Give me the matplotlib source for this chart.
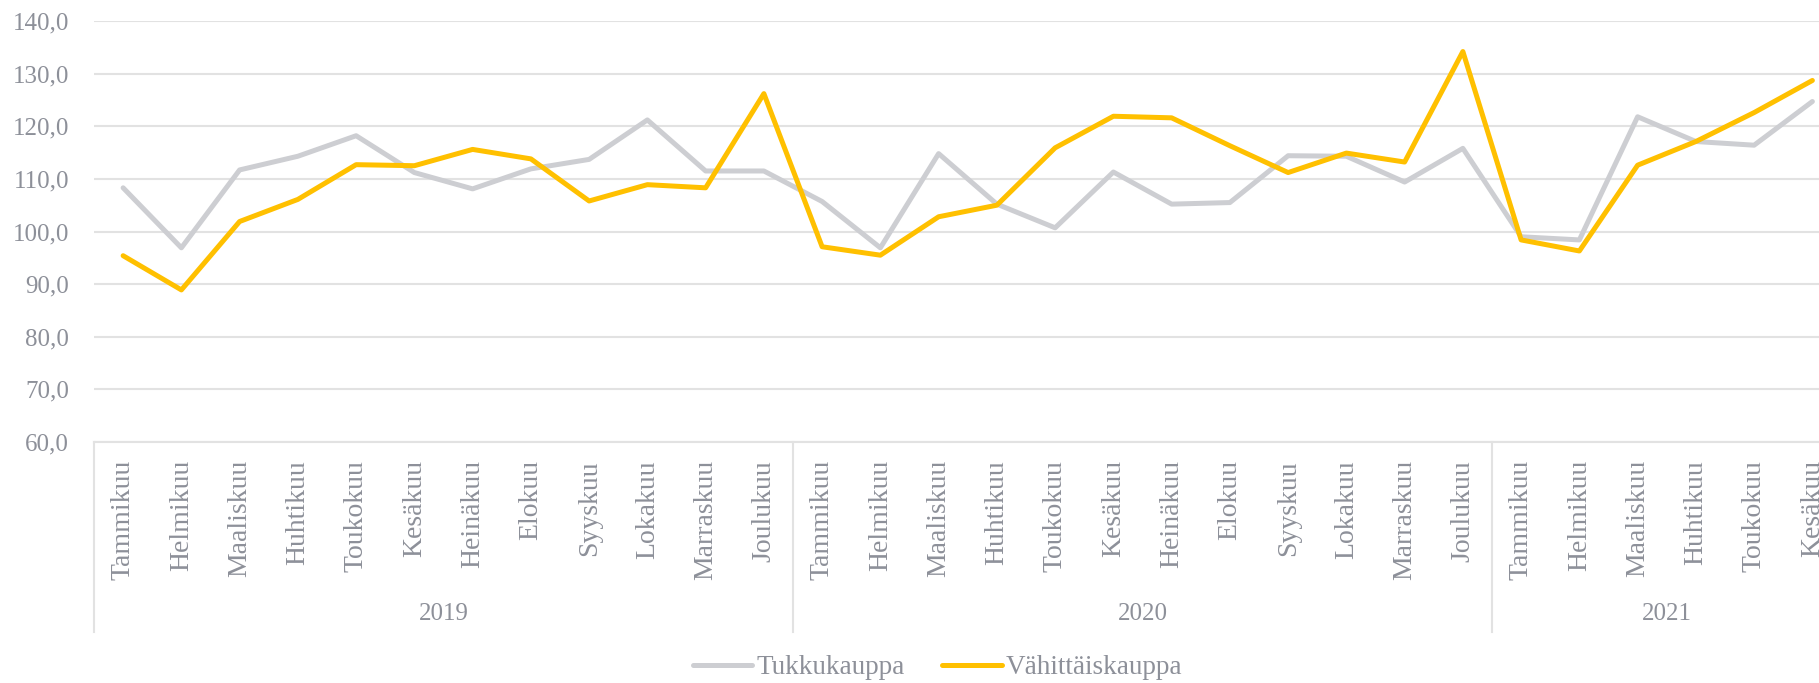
import numpy as np
import matplotlib
matplotlib.use('Agg')
import matplotlib.pyplot as plt
import matplotlib.transforms as mtransforms

# Monthly index values, Jan 2019 - Jun 2021.
months = ['Tammikuu', 'Helmikuu', 'Maaliskuu', 'Huhtikuu', 'Toukokuu', 'Kesäkuu',
          'Heinäkuu', 'Elokuu', 'Syyskuu', 'Lokakuu', 'Marraskuu', 'Joulukuu']
years = ['2019', '2020', '2021']
months_per_year = [12, 12, 6]

tukkukauppa = [108.3, 96.9, 111.7, 114.3, 118.2, 111.2, 108.1, 111.9, 113.7, 121.2, 111.5, 111.5,
               105.7, 96.9, 114.8, 105.2, 100.7, 111.3, 105.2, 105.5, 114.4, 114.3, 109.4, 115.8,
               99.0, 98.4, 121.8, 117.1, 116.4, 124.7]
vahittaiskauppa = [95.4, 88.9, 101.9, 106.1, 112.7, 112.5, 115.6, 113.8, 105.8, 108.9, 108.3, 126.2,
                   97.1, 95.5, 102.8, 105.0, 115.9, 121.9, 121.6, 116.3, 111.2, 114.9, 113.2, 134.2,
                   98.4, 96.3, 112.6, 117.1, 122.6, 128.7]

GRAY = '#CDCED2'
YELLOW = '#FFC000'
TEXT = '#8D9099'
GRID = '#E2E2E2'

plt.rcParams['font.family'] = ['Liberation Serif', 'DejaVu Serif']

fig = plt.figure(figsize=(18.19, 6.83), dpi=100)
# axes runs a bit past the right edge, like the cropped original
ax = fig.add_axes([94 / 1819, 241 / 683, 1747.5 / 1819, 421 / 683])

labels = []
for n in months_per_year:
    labels += months[:n]
x = np.arange(len(labels))

ax.plot(x, tukkukauppa, color=GRAY, lw=3.6, solid_joinstyle='round',
        solid_capstyle='round', label='Tukkukauppa')
ax.plot(x, vahittaiskauppa, color=YELLOW, lw=3.6, solid_joinstyle='round',
        solid_capstyle='round', label='Vähittäiskauppa')

ax.set_xlim(-0.5, len(labels) - 0.5)
ax.set_ylim(60, 140)
ax.set_yticks(np.arange(60, 141, 10))
ax.set_yticklabels(['%d,0' % v for v in range(60, 141, 10)])
ax.yaxis.grid(True, color=GRID, lw=1.5)
ax.set_axisbelow(True)
for s in ['top', 'left', 'right']:
    ax.spines[s].set_visible(False)
ax.spines['bottom'].set_color(GRID)
ax.spines['bottom'].set_linewidth(1.5)

ax.set_xticks(x)
ax.set_xticklabels(labels, rotation=90)
ax.tick_params(axis='x', length=0, pad=13, labelsize=20, labelcolor=TEXT)
ax.tick_params(axis='y', length=0, pad=18, labelsize=18, labelcolor=TEXT)

# Year group separators and labels below the month labels.
trans = mtransforms.blended_transform_factory(ax.transData, ax.transAxes)
start = 0
for year, n in zip(years, months_per_year):
    ax.plot([start - 0.5, start - 0.5], [0, -0.451], color=GRID, lw=1.5,
            transform=trans, clip_on=False)
    ax.text(start + n / 2 - 0.5, -0.409, year, transform=trans, ha='center',
            va='center', fontsize=18, color=TEXT)
    start += n
ax.plot([start - 0.5, start - 0.5], [0, -0.451], color=GRID, lw=1.5,
        transform=trans, clip_on=False)

fig.legend(loc='center', bbox_to_anchor=(937.5 / 1819, 15 / 683), ncol=2,
           frameon=False, fontsize=19.5, labelcolor=TEXT, handlelength=2.2,
           handletextpad=0.15, columnspacing=1.4)

fig.savefig('out.png', dpi=100)
